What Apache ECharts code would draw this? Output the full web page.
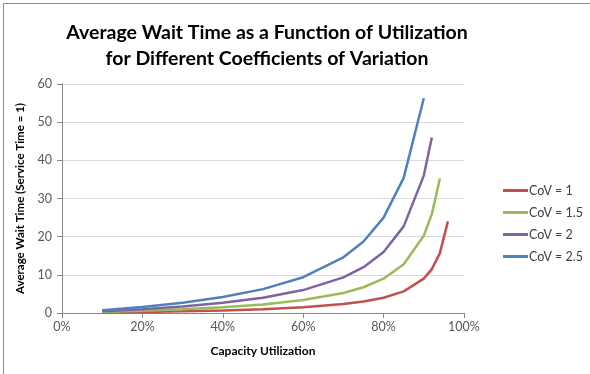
<!DOCTYPE html>
<html>
<head>
<meta charset="utf-8">
<script src="https://cdn.jsdelivr.net/npm/echarts@6/dist/echarts.min.js"></script>
<style>
html,body{margin:0;padding:0;background:#fff;}
#c{width:590px;height:374px;}
</style>
</head>
<body>
<div id="c"></div>
<script>
const titleText = "Average Wait Time as a Function of Utilization\nfor Different Coefficients of Variation";
const xAxisName = "Capacity Utilization";
const yAxisName = "Average Wait Time (Service Time = 1)";
const utilization = [0.10, 0.20, 0.30, 0.40, 0.50, 0.60, 0.70, 0.75, 0.80, 0.85, 0.90, 0.92, 0.94, 0.96];
const seriesNames = ["CoV = 1", "CoV = 1.5", "CoV = 2", "CoV = 2.5"];
const cov1  = [0.11, 0.25, 0.43, 0.67, 1.0, 1.5, 2.33, 3.0, 4.0, 5.67, 9.0, 11.5, 15.7, 24.0];
const cov15 = [0.25, 0.56, 0.96, 1.5, 2.25, 3.38, 5.25, 6.75, 9.0, 12.75, 20.25, 25.9, 35.25];
const cov2  = [0.44, 1.0, 1.71, 2.67, 4.0, 6.0, 9.33, 12.0, 16.0, 22.7, 36.0, 46.0];
const cov25 = [0.69, 1.56, 2.68, 4.17, 6.25, 9.38, 14.6, 18.75, 25.0, 35.4, 56.25];
const colors = ["#C0504D", "#9BBB59", "#8064A2", "#4F81BD"];
const allValues = [cov1, cov15, cov2, cov25];

const font = "Lato, 'Open Sans', sans-serif";
const chart = echarts.init(document.getElementById('c'));
chart.setOption({
  animation: false,
  backgroundColor: '#fff',
  graphic: [{
    type: 'rect', left: 1, top: 1,
    shape: {width: 587, height: 371},
    style: {fill: 'none', stroke: '#8c8c8c', lineWidth: 1}
  }],
  title: {
    text: titleText,
    left: 262, top: 15, textAlign: 'center',
    textStyle: {fontFamily: font, fontWeight: 'bold', fontSize: 19.5, lineHeight: 26, color: '#000'}
  },
  legend: {
    orient: 'vertical', left: 498, top: 179,
    itemWidth: 25, itemHeight: 14, itemGap: 9,
    icon: 'path://M0,0 L25,0 L25,3 L0,3 Z',
    textStyle: {fontFamily: font, fontSize: 12.5, color: '#404040', padding: [0,0,0,-4]},
    data: seriesNames
  },
  grid: {left: 62, right: 126, top: 84, bottom: 61},
  xAxis: {
    type: 'value', min: 0, max: 1, interval: 0.2,
    name: xAxisName, nameLocation: 'middle', nameGap: 32,
    nameTextStyle: {fontFamily: font, fontWeight: 'bold', fontSize: 12, color: '#000'},
    axisLine: {lineStyle: {color: '#868686'}},
    axisTick: {show: true, length: 5, lineStyle: {color: '#868686'}},
    axisLabel: {fontFamily: font, fontSize: 12.5, color: '#595959', margin: 7,
      formatter: v => Math.round(v*100) + '%'},
    splitLine: {show: false}
  },
  yAxis: {
    type: 'value', min: 0, max: 60, interval: 10,
    name: yAxisName, nameLocation: 'middle', nameGap: 29,
    nameTextStyle: {fontFamily: font, fontWeight: 'bold', fontSize: 11.5, color: '#000'},
    axisLine: {show: true, lineStyle: {color: '#868686'}},
    axisTick: {show: true, length: 5, lineStyle: {color: '#868686'}},
    axisLabel: {fontFamily: font, fontSize: 12.5, color: '#595959', margin: 10},
    splitLine: {lineStyle: {color: '#d9d9d9', width: 1}}
  },
  series: seriesNames.map((n, i) => ({
    name: n, type: 'line', symbol: 'none',
    data: allValues[i].map((v, j) => [utilization[j], v]),
    lineStyle: {color: colors[i], width: 2.5},
    itemStyle: {color: colors[i]}
  }))
});
</script>
</body>
</html>
